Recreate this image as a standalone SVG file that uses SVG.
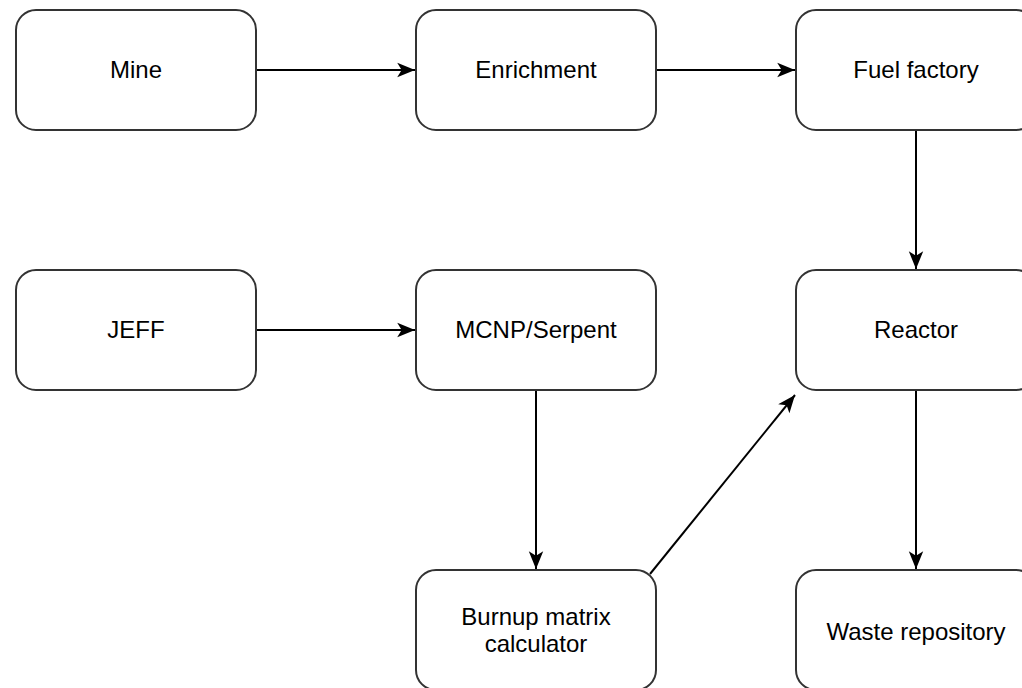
<svg xmlns="http://www.w3.org/2000/svg" width="1022" height="688" viewBox="0 0 1022 688">
  <style>
    .box { fill: #ffffff; stroke: #333333; stroke-width: 2; }
    .lbl { font-family: "Liberation Sans", Arial, sans-serif; font-size: 24px; fill: #000000; text-anchor: middle; }
    .edge { fill: none; stroke: #000000; stroke-width: 2; }
  </style>
  <defs>
    <marker id="arrow" markerUnits="userSpaceOnUse" markerWidth="20" markerHeight="16" viewBox="-17 -7 18 14" refX="0" refY="0" orient="auto">
      <path d="M -16 -6.5 L 0 0 L -16 6.5 L -12 0 Z" fill="#000000"/>
    </marker>
  </defs>
  <rect width="1022" height="688" fill="#ffffff"/>

  <g id="connectors">
    <line class="edge" x1="256" y1="70" x2="415" y2="70" marker-end="url(#arrow)"/>
    <line class="edge" x1="656" y1="70" x2="795" y2="70" marker-end="url(#arrow)"/>
    <line class="edge" x1="916" y1="130" x2="916" y2="269" marker-end="url(#arrow)"/>
    <line class="edge" x1="256" y1="330" x2="415" y2="330" marker-end="url(#arrow)"/>
    <line class="edge" x1="536" y1="390" x2="536" y2="569" marker-end="url(#arrow)"/>
    <line class="edge" x1="916" y1="390" x2="916" y2="569" marker-end="url(#arrow)"/>
    <line class="edge" x1="650" y1="574" x2="795" y2="395" marker-end="url(#arrow)"/>
  </g>

  <g id="mine">
    <rect class="box" x="16" y="10" width="240" height="120" rx="20" ry="20"/>
    <text class="lbl" x="136" y="78">Mine</text>
  </g>
  <g id="enrichment">
    <rect class="box" x="416" y="10" width="240" height="120" rx="20" ry="20"/>
    <text class="lbl" x="536" y="78">Enrichment</text>
  </g>
  <g id="fuel-factory">
    <rect class="box" x="796" y="10" width="240" height="120" rx="20" ry="20"/>
    <text class="lbl" x="916" y="78">Fuel factory</text>
  </g>
  <g id="jeff">
    <rect class="box" x="16" y="270" width="240" height="120" rx="20" ry="20"/>
    <text class="lbl" x="136" y="338">JEFF</text>
  </g>
  <g id="mcnp-serpent">
    <rect class="box" x="416" y="270" width="240" height="120" rx="20" ry="20"/>
    <text class="lbl" x="536" y="338">MCNP/Serpent</text>
  </g>
  <g id="reactor">
    <rect class="box" x="796" y="270" width="240" height="120" rx="20" ry="20"/>
    <text class="lbl" x="916" y="338">Reactor</text>
  </g>
  <g id="burnup-matrix-calculator">
    <rect class="box" x="416" y="570" width="240" height="120" rx="20" ry="20"/>
    <text class="lbl" x="536" y="625">Burnup matrix</text>
    <text class="lbl" x="536" y="652">calculator</text>
  </g>
  <g id="waste-repository">
    <rect class="box" x="796" y="570" width="240" height="120" rx="20" ry="20"/>
    <text class="lbl" x="916" y="640">Waste repository</text>
  </g>
</svg>
